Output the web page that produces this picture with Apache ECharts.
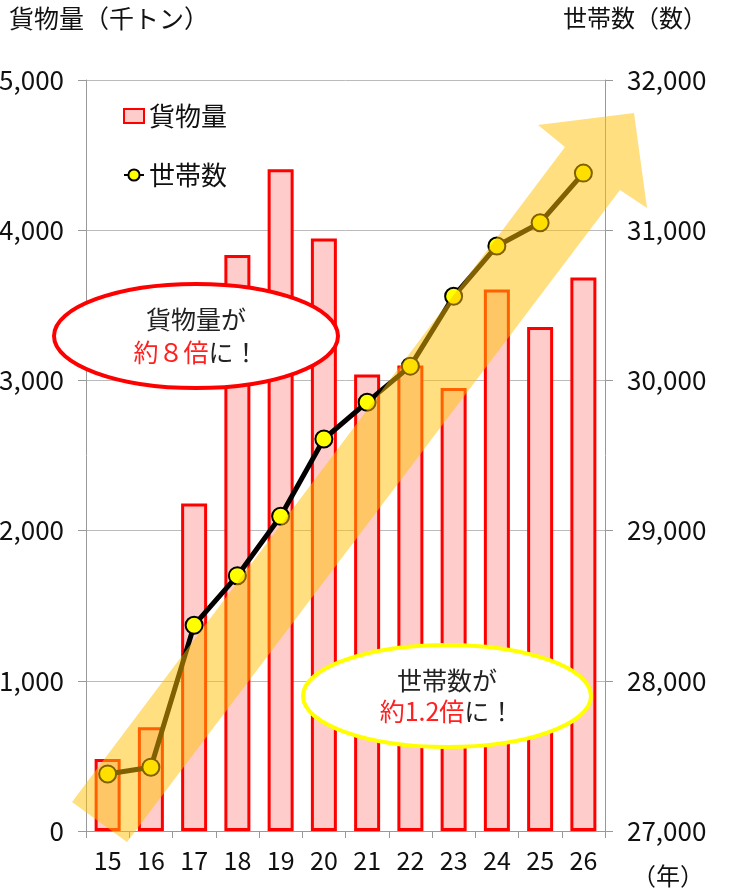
<!DOCTYPE html>
<html>
<head>
<meta charset="utf-8">
<script src="https://cdn.jsdelivr.net/npm/echarts@6/dist/echarts.min.js"></script>
<style>
html,body{margin:0;padding:0;background:#fff;}
#c{width:731px;height:896px;}
</style>
</head>
<body>
<div id="c"></div>
<script>
const categories = ['15','16','17','18','19','20','21','22','23','24','25','26'];
const cargo = [480, 690, 2180, 3835, 4405, 3945, 3040, 3100, 2950, 3605, 3355, 3685];
const households = [27380, 27425, 28370, 28700, 29095, 29610, 29855, 30095, 30560, 30895, 31050, 31380];
const leftTicks = [0, 1000, 2000, 3000, 4000, 5000];
const rightTicks = [27000, 28000, 29000, 30000, 31000, 32000];

const FONT = '"Noto Sans CJK JP", "Noto Sans", sans-serif';
const fmt = v => v === 0 ? '0' : v.toLocaleString('en-US');

const chart = echarts.init(document.getElementById('c'), null, {renderer: 'canvas'});
chart.setOption({
  animation: false,
  backgroundColor: '#fff',
  grid: {left: 86, right: 126, top: 80, bottom: 65, containLabel: false, outerBoundsMode: 'none'},
  legend: {
    orient: 'vertical', left: 118, top: 98, itemGap: 33,
    itemWidth: 20, itemHeight: 14,
    textStyle: {fontFamily: FONT, fontSize: 26, color: '#111'},
    data: [
      {name: '貨物量', icon: 'rect'},
      {name: '世帯数'}
    ]
  },
  xAxis: {
    type: 'category', data: categories,
    axisLine: {lineStyle: {color: '#999', width: 1}},
    axisTick: {show: true, length: 7, lineStyle: {color: '#999'}},
    axisLabel: {fontFamily: FONT, fontSize: 25, color: '#111', margin: 17}
  },
  yAxis: [
    {
      type: 'value', min: leftTicks[0], max: leftTicks[leftTicks.length-1], interval: 1000,
      axisLine: {show: true, lineStyle: {color: '#999'}},
      axisTick: {show: true, length: 8, lineStyle: {color: '#999'}},
      splitLine: {show: true, lineStyle: {color: '#bbb', width: 1}},
      axisLabel: {fontFamily: FONT, fontSize: 26, color: '#111', margin: 22, formatter: fmt}
    },
    {
      type: 'value', min: rightTicks[0], max: rightTicks[rightTicks.length-1], interval: 1000,
      position: 'right',
      axisLine: {show: true, lineStyle: {color: '#999'}},
      axisTick: {show: true, length: 8, lineStyle: {color: '#999'}},
      splitLine: {show: false},
      axisLabel: {fontFamily: FONT, fontSize: 26, color: '#111', margin: 22, formatter: fmt}
    }
  ],
  series: [
    {
      name: '貨物量', type: 'bar', yAxisIndex: 0, data: cargo, barWidth: 26,
      itemStyle: {color: '#FFCCCC', borderColor: '#FF0000', borderWidth: 3}
    },
    {
      name: '世帯数', type: 'line', yAxisIndex: 1, data: households,
      symbol: 'circle', symbolSize: 17,
      lineStyle: {color: '#000', width: 5},
      itemStyle: {color: '#FFFF00', borderColor: '#000', borderWidth: 2}
    }
  ],
  graphic: [
    {type: 'text', left: 9, top: 6, z: 30,
     style: {text: '貨物量（千トン）', fontFamily: FONT, fontSize: 25, fill: '#111'}},
    {type: 'text', right: 24, top: 6, z: 30,
     style: {text: '世帯数（数）', fontFamily: FONT, fontSize: 24, fill: '#111'}},
    {type: 'text', left: 632, top: 864, z: 30,
     style: {text: '（年）', fontFamily: FONT, fontSize: 24, fill: '#111'}},
    {type: 'ellipse', z: 40,
     shape: {cx: 196, cy: 336, rx: 142, ry: 52},
     style: {fill: '#fff', stroke: '#FF0000', lineWidth: 4}},
    {type: 'text', z: 41, x: 196, y: 336,
     style: {
       text: '{k|貨物量が}\n{r|約８倍}{k|に！}',
       align: 'center', verticalAlign: 'middle', lineHeight: 33,
       rich: {
         k: {fontFamily: FONT, fontSize: 25, fill: '#222', lineHeight: 33},
         r: {fontFamily: FONT, fontSize: 25, fill: '#FF2020', lineHeight: 33}
       }
     }},
    {type: 'ellipse', z: 40,
     shape: {cx: 447, cy: 696, rx: 144, ry: 51},
     style: {fill: '#fff', stroke: '#FFFF00', lineWidth: 4}},
    {type: 'text', z: 41, x: 447, y: 696,
     style: {
       text: '{k|世帯数が}\n{r|約1.2倍}{k|に！}',
       align: 'center', verticalAlign: 'middle', lineHeight: 31,
       rich: {
         k: {fontFamily: FONT, fontSize: 25, fill: '#222', lineHeight: 31},
         r: {fontFamily: FONT, fontSize: 25, fill: '#FF2020', lineHeight: 31}
       }
     }},
    {type: 'polygon', z: 60,
     shape: {points: [[72,802],[565,147],[538,125],[634,113],[647,208],[620,190],[127,842]]},
     style: {fill: 'rgba(255,192,0,0.5)'}}
  ]
});
</script>
</body>
</html>
